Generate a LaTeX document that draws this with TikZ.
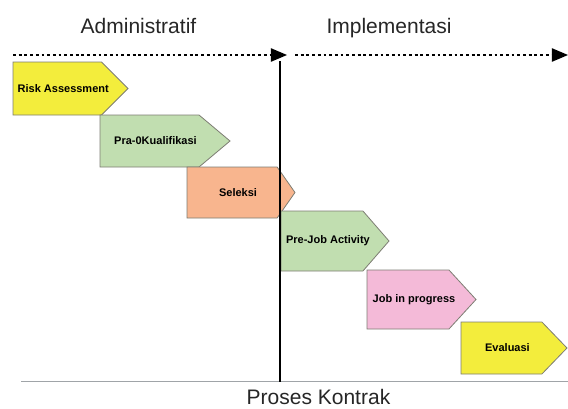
\documentclass[tikz,border=0pt]{standalone}
\usepackage{fontspec}
\setmainfont{Liberation Sans}
\usetikzlibrary{shapes,arrows}
\definecolor{phYellow}{RGB}{243,237,60}
\definecolor{phGreen}{RGB}{193,222,176}
\definecolor{phSalmon}{RGB}{248,181,142}
\definecolor{phPink}{RGB}{244,186,216}
\definecolor{phBorder}{RGB}{125,125,115}
\definecolor{baseGray}{RGB}{160,164,168}

\begin{document}
\begin{tikzpicture}[x=1pt, y=-1pt]%
  \tikzset{phase arrow/.style={draw=phBorder, line width=0.8pt, signal, signal to=east, signal pointer angle=90, inner sep=0pt, outer sep=0pt, anchor=west}}
  \tikzset{phase text/.style={font=\fontsize{11}{12}\selectfont\bfseries, xshift=6pt}}
  \tikzset{time arrow/.style={draw, -triangle 45, line width=2.8pt, dash pattern=on 2.8pt off 2.9pt}}
  \tikzstyle{title}=[font=\fontsize{21}{25}\selectfont, text=black!85, anchor=base, inner sep=0pt]

  \useasboundingbox (0,0) rectangle (568,408);

  \node[title] (admin) at (138.5,33) {Administratif};
  \node[title] (impl) at (389,33) {Implementasi};
  \node[title] (kontrak) at (318.5,404) {Proses Kontrak};

  \coordinate (tl start) at (13,55);
  \coordinate (tl mid) at (287,55);
  \coordinate (tl next) at (295,55);
  \coordinate (tl end) at (568,55);
  \path[time arrow] (tl start) -- (tl mid);
  \path[time arrow] (tl next) -- (tl end);

  \node[phase arrow, fill=phYellow, minimum width=115pt, minimum height=53pt, label={[phase text]center:Risk Assessment}] (risk) at (13,88.5) {};
  \node[phase arrow, fill=phGreen, signal pointer angle=80, minimum width=130pt, minimum height=52pt, label={[phase text]center:Pra-0Kualifikasi}] (prakual) at (100,141) {};
  \node[phase arrow, fill=phSalmon, signal pointer angle=110, minimum width=108pt, minimum height=51pt, label={[phase text]center:Seleksi}] (seleksi) at (187,192.5) {};
  \node[phase arrow, fill=phGreen, signal pointer angle=98, minimum width=108pt, minimum height=60pt, label={[phase text]center:Pre-Job Activity}] (prejob) at (281,241) {};
  \node[phase arrow, fill=phPink, signal pointer angle=95, minimum width=109pt, minimum height=59pt, label={[phase text]center:Job in progress}] (jobprog) at (367,299.5) {};
  \node[phase arrow, fill=phYellow, signal pointer angle=92, minimum width=106pt, minimum height=52pt, label={[phase text]center:Evaluasi}] (evaluasi) at (461,348) {};

  \coordinate (split top) at (280,61);
  \coordinate (split bottom) at (280,382);
  \coordinate (base left) at (21,381.5);
  \coordinate (base right) at (568,381.5);
  \draw[baseGray, line width=1.5pt] (base left) -- (base right);
  \draw[black, line width=1.4pt] (split top) -- (split bottom);
\end{tikzpicture}
\end{document}
